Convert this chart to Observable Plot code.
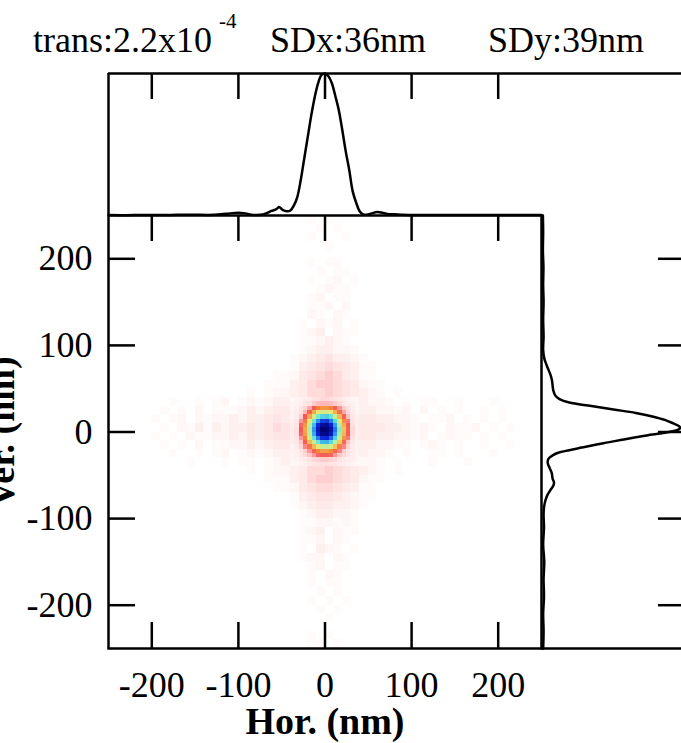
<!DOCTYPE html>
<html>
<head>
<meta charset="utf-8">
<script src="https://cdn.jsdelivr.net/npm/d3@7"></script>
<script src="https://cdn.jsdelivr.net/npm/@observablehq/plot@0.6"></script>
<style>
  html, body { margin: 0; padding: 0; background: #fff; }
  #chart { position: relative; width: 681px; height: 743px; overflow: hidden; background: #fff;
           font-family: "Liberation Serif", Tinos, "Nimbus Roman", "DejaVu Serif", serif; color: #000; }
  .t { position: absolute; white-space: pre; line-height: 1; }
</style>
</head>
<body>
<div id="chart">
  <span class="t" style="left:33px; top:22px; font-size:36px;">trans:2.2x10</span>
  <span class="t" style="left:219px; top:11px; font-size:21px;">-4</span>
  <span class="t" style="left:270px; top:22px; font-size:36px;">SDx:36nm</span>
  <span class="t" style="left:488px; top:22px; font-size:36px;">SDy:39nm</span>
</div>
<script>
// ---------- data ----------
const xDomain = [-250, 250];
const yDomain = [-250, 250];
const xTicks = [-200, -100, 0, 100, 200];
const yTicks = [-200, -100, 0, 100, 200];

// horizontal profile (top panel): position (nm) and normalised intensity
const topX = [-250,-230,-210,-190,-170,-150,-135,-120,-110,-100,-92,-85,-75,-68,-62,-56,-53,-49,-44,-40,-36,-32,-28,-24,-20,-16,-12,-8,-4,0,4,8,12,16,20,24,28,32,36,40,44,48,54,60,66,72,80,90,100,120,140,160,180,200,220,250];
const topV = [0.003,0.002,0.004,0.003,0.005,0.006,0.004,0.008,0.015,0.02,0.015,0.006,0.005,0.015,0.032,0.045,0.06,0.04,0.03,0.035,0.07,0.13,0.25,0.4,0.55,0.7,0.83,0.93,0.99,1.0,0.98,0.93,0.84,0.74,0.6,0.45,0.32,0.17,0.09,0.03,0.008,0.005,0.015,0.025,0.02,0.01,0.008,0.005,0.004,0.003,0.004,0.003,0.004,0.003,0.004,0.003];

// vertical profile (right panel): position (nm) and normalised intensity
const rightY = [250,230,210,190,170,150,130,110,95,85,78,72,66,60,54,48,42,38,34,30,26,22,18,14,10,7,5,3,0,-3,-6,-9,-12,-15,-18,-21,-24,-27,-31,-36,-42,-48,-54,-58,-62,-67,-72,-78,-85,-95,-110,-130,-150,-170,-190,-210,-230,-250];
const rightV = [0.01,0.012,0.01,0.014,0.012,0.015,0.012,0.015,0.012,0.02,0.035,0.05,0.065,0.075,0.08,0.085,0.1,0.13,0.2,0.36,0.52,0.68,0.8,0.89,0.95,0.99,1.0,0.99,0.92,0.8,0.68,0.58,0.48,0.38,0.29,0.2,0.12,0.08,0.05,0.045,0.06,0.075,0.08,0.09,0.085,0.065,0.045,0.03,0.02,0.015,0.018,0.012,0.02,0.015,0.018,0.012,0.015,0.012];

// central spot, 5 nm pixels (percent of max); rows top -> bottom
const coreX = [-37.5,-32.5,-27.5,-22.5,-17.5,-12.5,-7.5,-2.5,2.5,7.5,12.5,17.5,22.5,27.5,32.5,37.5];
const coreY = [37.5,32.5,27.5,22.5,17.5,12.5,7.5,2.5,-2.5,-7.5,-12.5,-17.5,-22.5,-27.5,-32.5,-37.5];
const coreRows = [
  [3,4,5,6,7,9,10,11,11,10,9,8,6,5,4,3],
  [4,5,6,8,10,13,15,16,16,15,13,11,8,6,5,4],
  [4,6,9,12,17,23,28,31,31,29,24,18,13,10,6,4],
  [5,7,10,16,24,33,41,45,45,41,34,26,17,11,7,5],
  [5,7,13,22,33,45,56,62,63,58,47,35,24,15,8,5],
  [6,8,18,27,41,57,72,81,82,74,61,44,30,20,9,6],
  [6,9,21,31,48,66,84,94,95,86,70,51,34,23,10,6],
  [7,10,22,33,51,71,89,100,99,92,75,55,36,24,11,6],
  [7,10,21,32,49,68,86,96,97,88,71,52,35,23,11,6],
  [6,9,18,28,43,59,74,84,85,77,62,46,31,20,10,6],
  [6,8,14,23,35,47,58,66,67,61,50,37,25,15,8,5],
  [5,7,12,19,26,35,42,47,48,44,36,28,19,12,7,5],
  [5,6,9,13,18,24,29,32,32,30,25,19,13,9,7,5],
  [4,6,8,11,14,18,21,23,23,21,18,14,11,8,6,4],
  [4,5,6,7,9,11,12,13,13,12,11,9,7,6,6,4],
  [3,4,5,6,7,8,9,10,10,9,8,7,6,5,4,3]
];

// faint halo, 10 nm pixels, digit = intensity level; rows from y=250 down to y=-250
const haloRows = [
  "00000000000000000000" + "0001010000" + "00000000000000000000",
  "00000000000000000000" + "0000101000" + "00000000000000000000",
  "00000000000000000000" + "0001000100" + "00000000000000000000",
  "00000000000000000000" + "0000010000" + "00000000000000000000",
  "00000000000000000000" + "0000000000" + "00000000000000000000",
  "00000000000000000000" + "0001011000" + "00000000000000000000",
  "00000000000000000000" + "0000101100" + "00000000000000000000",
  "00000000000000000000" + "0001012010" + "00000000000000000000",
  "00000000000000000000" + "0000121100" + "00000000000000000000",
  "00000000000000000000" + "0001201100" + "00000000000000000000",
  "00000000000000000000" + "0001120200" + "00000000000000000000",
  "00000000000000000000" + "0002102100" + "00000000000000000000",
  "00000000000000000000" + "0010212010" + "00000000000000000000",
  "00000000000000000000" + "0012302110" + "00000000000000000000",
  "00000000000000000000" + "0011232100" + "00000000000000000000",
  "00000000000000000000" + "0012332210" + "00000000000000000000",
  "00000000000000000000" + "0123453321" + "00000000000000000000",
  "00000000000000000000" + "0134565431" + "10000000000000000000",
  "00000000000000000001" + "1245676431" + "10000000000000000000",
  "00000000000000000011" + "1346776542" + "11000000000000000000",
  "00000000000000001012" + "2346676543" + "21010000000000000000",
  "00000001001012012123" + "3000000003" + "22101011001000100000",
  "00000010102011123234" + "4000000003" + "32212020101001010000",
  "00000101202122323345" + "4000000004" + "43322101120101010000",
  "00000010213132334346" + "5000000004" + "44332121021120101000",
  "00000101021122324345" + "5000000004" + "43322120121101010000",
  "00000010102011223234" + "4000000003" + "32211012101001001000",
  "00000001001012012123" + "3000000003" + "22101001101000100000",
  "00000000010001011012" + "3000000002" + "21010001000100000000",
  "00000000000000001012" + "2346676543" + "21010000000000000000",
  "00000000000000000011" + "1346776542" + "11000000000000000000",
  "00000000000000000001" + "1245665431" + "10000000000000000000",
  "00000000000000000000" + "0134554321" + "10000000000000000000",
  "00000000000000000000" + "0123443321" + "00000000000000000000",
  "00000000000000000000" + "0012332210" + "00000000000000000000",
  "00000000000000000000" + "0011221210" + "00000000000000000000",
  "00000000000000000000" + "0012302110" + "00000000000000000000",
  "00000000000000000000" + "0011202100" + "00000000000000000000",
  "00000000000000000000" + "0010321010" + "00000000000000000000",
  "00000000000000000000" + "0012202100" + "00000000000000000000",
  "00000000000000000000" + "0001201100" + "00000000000000000000",
  "00000000000000000000" + "0001021000" + "00000000000000000000",
  "00000000000000000000" + "0001011000" + "00000000000000000000",
  "00000000000000000000" + "0000101000" + "00000000000000000000",
  "00000000000000000000" + "0001010100" + "00000000000000000000",
  "00000000000000000000" + "0000101000" + "00000000000000000000",
  "00000000000000000000" + "0000010000" + "00000000000000000000",
  "00000000000000000000" + "0000000000" + "00000000000000000000",
  "00000000000000000000" + "0001010000" + "00000000000000000000",
  "00000000000000000000" + "0001101000" + "00000000000000000000"
];
const haloStep = 10, haloUnit = 0.018;

// colour map: white -> pink -> red -> orange -> yellow -> green -> cyan -> blue -> navy
const colorStops = [0, 0.04, 0.10, 0.16, 0.22, 0.30, 0.40, 0.50, 0.60, 0.72, 0.85, 1.0];
const colorRange = ["#ffffff", "#fff5f5", "#ffe0e0", "#ffb8b8", "#f25656", "#f78b3d", "#f1e46c", "#b4f1a0", "#5be0e0", "#2a8df0", "#0a22d8", "#000070"];

const titleX = "Hor. (nm)";
const titleY = "Ver. (nm)";

// ---------- build tables ----------
const halo = [];
haloRows.forEach((row, j) => {
  for (let i = 0; i < row.length; i++) {
    const d = +row[i];
    if (!d) continue;
    const x1 = xDomain[0] + i * haloStep;
    const y2 = yDomain[1] - j * haloStep;
    halo.push({x1, x2: x1 + haloStep, y1: y2 - haloStep, y2, v: d * haloUnit});
  }
});
const core = [];
coreRows.forEach((row, r) => row.forEach((p, c) => {
  core.push({x1: coreX[c] - 2.5, x2: coreX[c] + 2.5, y1: coreY[r] - 2.5, y2: coreY[r] + 2.5, v: p / 100});
}));
const topData = topX.map((x, i) => ({x, v: topV[i]}));
const rightData = rightY.map((y, i) => ({y, v: rightV[i]}));

// ---------- layout (pixels) ----------
const W = 681, H = 743;
const L = 108, R = 541, MT = 215, MB = 648, TT = 73;
const font = "'Liberation Serif', Tinos, 'Nimbus Roman', 'DejaVu Serif', serif";
const lw = 2.5;
const svgStyle = {position: "absolute", left: "0px", top: "0px", background: "transparent", overflow: "visible", fontFamily: font, color: "black"};
const nmPerPx = (yDomain[1] - yDomain[0]) / (MB - MT);

// main heat map
const main = Plot.plot({
  width: W, height: H,
  marginLeft: L, marginRight: W - R, marginTop: MT, marginBottom: H - MB,
  x: {domain: xDomain, axis: null, label: null},
  y: {domain: yDomain, axis: null, label: null},
  color: {type: "linear", domain: colorStops, range: colorRange, clamp: true},
  style: svgStyle,
  marks: [
    Plot.rect(halo, {x1: "x1", x2: "x2", y1: "y1", y2: "y2", fill: "v", shapeRendering: "crispEdges"}),
    Plot.rect(core, {x1: "x1", x2: "x2", y1: "y1", y2: "y2", fill: "v", shapeRendering: "crispEdges"}),
    Plot.frame({stroke: "black", strokeWidth: lw}),
    Plot.axisX(xTicks, {anchor: "bottom", tickSize: -26, tickPadding: 49, tickFormat: d => String(d), fontSize: 36, fontFamily: font, stroke: "black", fill: "black", strokeWidth: lw, label: null}),
    Plot.axisX(xTicks, {anchor: "top", tickSize: -25, fill: "none", stroke: "black", strokeWidth: lw, label: null}),
    Plot.axisY(yTicks, {anchor: "left", tickSize: -27, tickPadding: 43, tickFormat: d => String(d), fontSize: 36, fontFamily: font, stroke: "black", fill: "black", strokeWidth: lw, label: null}),
    Plot.text([titleX], {text: d => d, frameAnchor: "bottom", textAnchor: "middle", dy: 85, lineAnchor: "bottom", fontSize: 38, fontFamily: font, fontWeight: "bold", fill: "black"}),
    Plot.text([titleY], {text: d => d, frameAnchor: "left", textAnchor: "middle", dx: -95, rotate: -90, lineAnchor: "bottom", fontSize: 38, fontFamily: font, fontWeight: "bold", fill: "black"})
  ]
});

// top profile
const topPlot = Plot.plot({
  width: W, height: H,
  marginLeft: L, marginRight: W - R, marginTop: TT, marginBottom: H - MT,
  x: {domain: xDomain, axis: null, label: null},
  y: {domain: [0, 1], axis: null, label: null},
  style: svgStyle,
  marks: [
    Plot.line(topData, {x: "x", y: "v", stroke: "black", strokeWidth: lw, curve: "catmull-rom"}),
    Plot.ruleX([xDomain[0]], {stroke: "black", strokeWidth: lw}),
    Plot.ruleY([1], {stroke: "black", strokeWidth: lw}),
    Plot.axisX(xTicks, {anchor: "top", tickSize: -25, fill: "none", stroke: "black", strokeWidth: lw, label: null})
  ]
});

// right profile
const rightTop = yDomain[1] + (MT - TT) * nmPerPx;
const rightPlot = Plot.plot({
  width: W, height: H,
  marginLeft: R, marginRight: 0, marginTop: TT, marginBottom: H - MB,
  x: {domain: [0, 1.01], axis: null, label: null},
  y: {domain: [yDomain[0], rightTop], axis: null, label: null},
  style: svgStyle,
  marks: [
    Plot.line(rightData, {x: "v", y: "y", stroke: "black", strokeWidth: lw, curve: "catmull-rom"}),
    Plot.ruleY([rightTop], {stroke: "black", strokeWidth: lw}),
    Plot.ruleY([yDomain[0]], {stroke: "black", strokeWidth: lw}),
    Plot.axisY(yTicks, {anchor: "right", tickSize: -24, fill: "none", stroke: "black", strokeWidth: lw, label: null})
  ]
});

const chart = document.getElementById("chart");
chart.insertBefore(rightPlot, chart.firstChild);
chart.insertBefore(topPlot, chart.firstChild);
chart.insertBefore(main, chart.firstChild);
</script>
</body>
</html>
